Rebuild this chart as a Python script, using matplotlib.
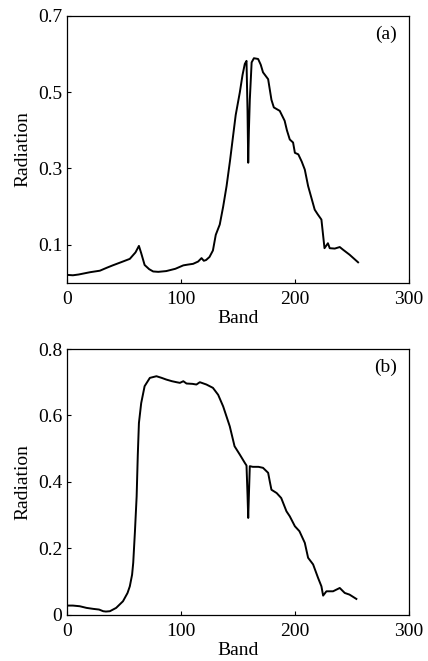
import matplotlib
matplotlib.use("Agg")
import matplotlib.pyplot as plt
import numpy as np

plt.rcParams['font.family'] = ['Liberation Serif', 'DejaVu Serif']

# Panel (a)
band_a = [0, 5, 10, 20, 28.7, 35, 40, 48, 55, 60, 63, 65, 68, 72, 75.5, 80, 87, 95, 102, 106,
          110.6, 115, 118, 120, 122, 125, 128, 130.5, 134,
          137, 140, 143, 145.7, 148, 151.6, 154, 156, 157.5, 158.4, 159, 159.6, 160.4, 162, 164,
          167.7, 170, 172, 176.5,
          179.4, 181.5, 186.7, 191, 193, 195.5, 198.4, 200, 203, 206, 208.7, 211.6, 214.5, 217.4,
          220, 223.3, 226, 229, 230.6, 235, 239.4, 242.3, 248, 255.5]
rad_a = [0.021, 0.020, 0.022, 0.028, 0.032, 0.040, 0.046, 0.055, 0.063, 0.080, 0.097, 0.078,
         0.047, 0.036, 0.030, 0.029, 0.031, 0.037, 0.046, 0.048,
         0.050, 0.056, 0.065, 0.058, 0.060, 0.068, 0.085, 0.126, 0.153,
         0.200, 0.254, 0.320, 0.385, 0.440, 0.499, 0.545, 0.574, 0.582, 0.45, 0.315, 0.40,
         0.48, 0.578, 0.589, 0.587, 0.572, 0.552, 0.534, 0.480, 0.460, 0.451, 0.425, 0.400,
         0.376, 0.368, 0.341, 0.337, 0.318, 0.297, 0.254, 0.223, 0.192, 0.180, 0.166, 0.091,
         0.104, 0.091, 0.090, 0.094, 0.087, 0.074, 0.054]

# Panel (b)
band_b = [0, 5, 11, 17, 23, 28, 31.6, 34, 37.5, 43, 49, 53, 55, 57, 58, 59.5, 61, 62, 63, 65,
          68, 72.6, 78.4, 83, 87, 92, 96, 99, 102,
          104.8, 110, 113.5, 116.5, 122.3, 128, 132.6, 137, 142.8, 147, 151.6, 156, 157.5, 158.4,
          159, 159.6, 160.4, 163, 168, 172, 176.5, 178, 179.4, 184, 188, 192.6, 195.5, 200, 204,
          208.7, 211.6, 216, 220.4, 223.3, 224.8, 227.7, 233.5, 239.4, 243.8, 248, 254]
rad_b = [0.027, 0.027, 0.025, 0.020, 0.017, 0.015, 0.010, 0.009, 0.010, 0.020, 0.040, 0.065,
         0.085, 0.120, 0.156, 0.250, 0.356, 0.480, 0.577, 0.637,
         0.688, 0.713, 0.718, 0.713, 0.708, 0.703, 0.700, 0.698, 0.703,
         0.696, 0.695, 0.693, 0.700, 0.693, 0.683, 0.662, 0.627, 0.567, 0.507, 0.482, 0.457,
         0.449, 0.36, 0.291, 0.36, 0.447, 0.445, 0.445, 0.442, 0.427, 0.400, 0.376, 0.366,
         0.351, 0.311, 0.296, 0.266, 0.251, 0.216, 0.171, 0.151, 0.110, 0.085, 0.057, 0.070,
         0.070, 0.080, 0.065, 0.060, 0.047]

xticks = [0, 100, 200, 300]
yticks_a = [0.1, 0.3, 0.5, 0.7]
yticks_b = [0, 0.2, 0.4, 0.6, 0.8]
yticklabels_b = ['0', '0.2', '0.4', '0.6', '0.8']

fig = plt.figure(figsize=(4.28, 6.61), dpi=100)
ax1 = fig.add_axes([0.157, 0.572, 0.798, 0.404])
ax2 = fig.add_axes([0.157, 0.0703, 0.798, 0.4017])

def style(ax, yticks, ylim, label, yticklabels=None):
    ax.set_xlim(0, 300)
    ax.set_ylim(*ylim)
    ax.set_xticks(xticks)
    ax.set_yticks(yticks)
    if yticklabels is not None:
        ax.set_yticklabels(yticklabels)
    ax.tick_params(direction='in', length=3, width=0.8, labelsize=14)
    ax.tick_params(axis='x', pad=6)
    ax.tick_params(axis='y', pad=3.5)
    for s in ax.spines.values():
        s.set_linewidth(0.9)
    ax.set_xlabel('Band', fontsize=14, labelpad=1.5)
    ax.set_ylabel('Radiation', fontsize=14, labelpad=5)
    ax.text(0.965, 0.93, label, transform=ax.transAxes, ha='right', va='center', fontsize=14)

ax1.plot(band_a, rad_a, color='black', lw=1.4)
style(ax1, yticks_a, (0, 0.7), '(a)')
ax2.plot(band_b, rad_b, color='black', lw=1.4)
style(ax2, yticks_b, (0, 0.8), '(b)', yticklabels_b)

fig.savefig('out.png', dpi=100)
